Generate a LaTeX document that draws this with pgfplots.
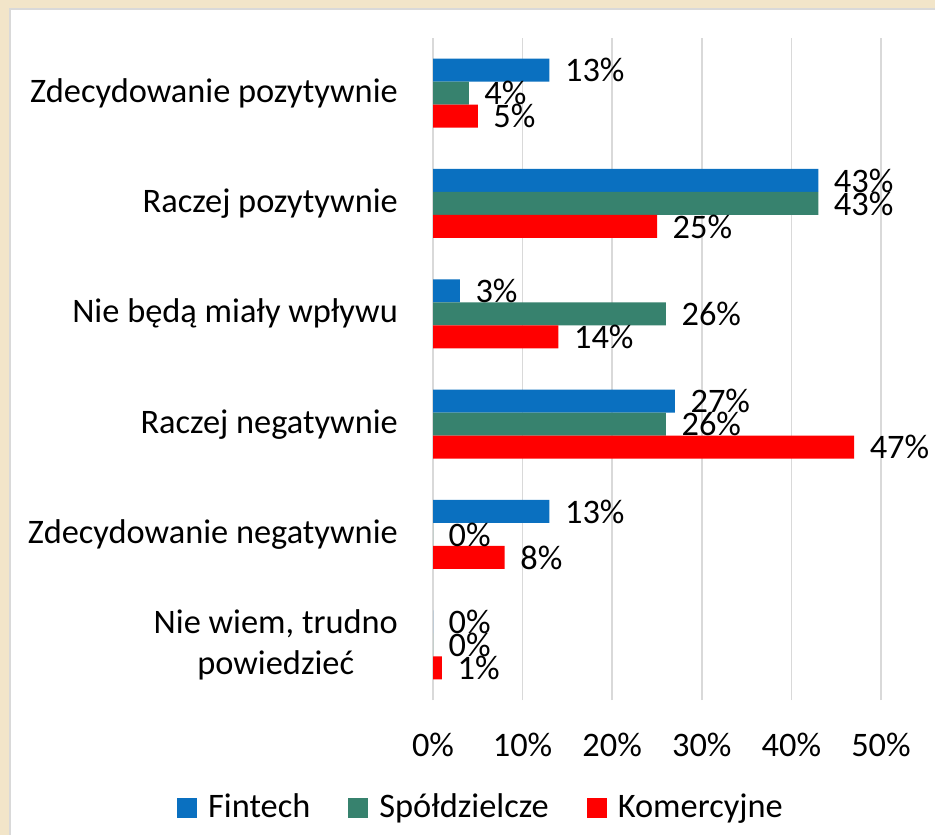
\documentclass[border=0pt]{standalone}
\usepackage{pgfplots}
\pgfplotsset{compat=1.18}
\usepackage{fontspec}
\setmainfont{Carlito}
\definecolor{cfin}{RGB}{10,112,192}
\definecolor{cspol}{RGB}{55,130,110}
\definecolor{ckom}{RGB}{255,0,0}
\definecolor{parch}{RGB}{242,229,201}
\definecolor{gridc}{RGB}{217,217,217}
\begin{document}
\fontsize{34.5}{42}\selectfont
\begin{tikzpicture}
\useasboundingbox (0bp,0bp) rectangle (935bp,835bp);
\clip (0bp,0bp) rectangle (935bp,835bp);
\fill[parch] (0bp,0bp) rectangle (935bp,835bp);
\filldraw[fill=white, draw=black!15, line width=1.5bp] (10bp,-5bp) rectangle (945bp,826bp);
\begin{axis}[
  at={(433bp,135bp)}, anchor=south west,
  scale only axis, width=448bp, height=662bp,
  /pgf/number format/assume math mode=true,
  xbar=0pt, bar width=23bp,
  xmin=0, xmax=50, ymin=-0.5, ymax=5.5,
  clip=false,
  xtick={0,10,20,30,40,50},
  xticklabels={0\%,10\%,20\%,30\%,40\%,50\%},
  ytick={0,1,2,3,4,5},
  yticklabels={{Nie wiem, trudno\\powiedzieć},Zdecydowanie negatywnie,Raczej negatywnie,Nie będą miały wpływu,Raczej pozytywnie,Zdecydowanie pozytywnie},
  yticklabel style={align=center, anchor=east, inner sep=0pt, xshift=-35bp},
  xticklabel style={anchor=north, inner sep=0pt, yshift=-33bp},
  major tick length=0pt,
  axis line style={draw=none},
  xmajorgrids, ymajorgrids=false,
  major grid style={draw=gridc, line width=1.5bp},
  nodes near coords={\pgfmathprintnumber{\pgfplotspointmeta}\%},
  point meta=x,
  every node near coord/.append style={anchor=west, xshift=4bp, text=black},
  legend style={at={(0.107,-0.163)}, anchor=center, draw=none, fill=none,
    legend columns=3,
    /tikz/every odd column/.append style={column sep=9bp},
    /tikz/every even column/.append style={column sep=36bp}},
  legend image code/.code={\fill[#1] (0bp,-10bp) rectangle (20bp,10bp);},
]
\addplot[fill=cfin, draw=none, bar shift=23bp] coordinates {(13,5) (43,4) (3,3) (27,2) (13,1) (0,0)};
\addplot[fill=cspol, draw=none, bar shift=0bp] coordinates {(4,5) (43,4) (26,3) (26,2) (0,1) (0,0)};
\addplot[fill=ckom, draw=none, bar shift=-23bp] coordinates {(5,5) (25,4) (14,3) (47,2) (8,1) (1,0)};
\legend{Fintech,Spółdzielcze,Komercyjne}
\end{axis}
\end{tikzpicture}
\end{document}
